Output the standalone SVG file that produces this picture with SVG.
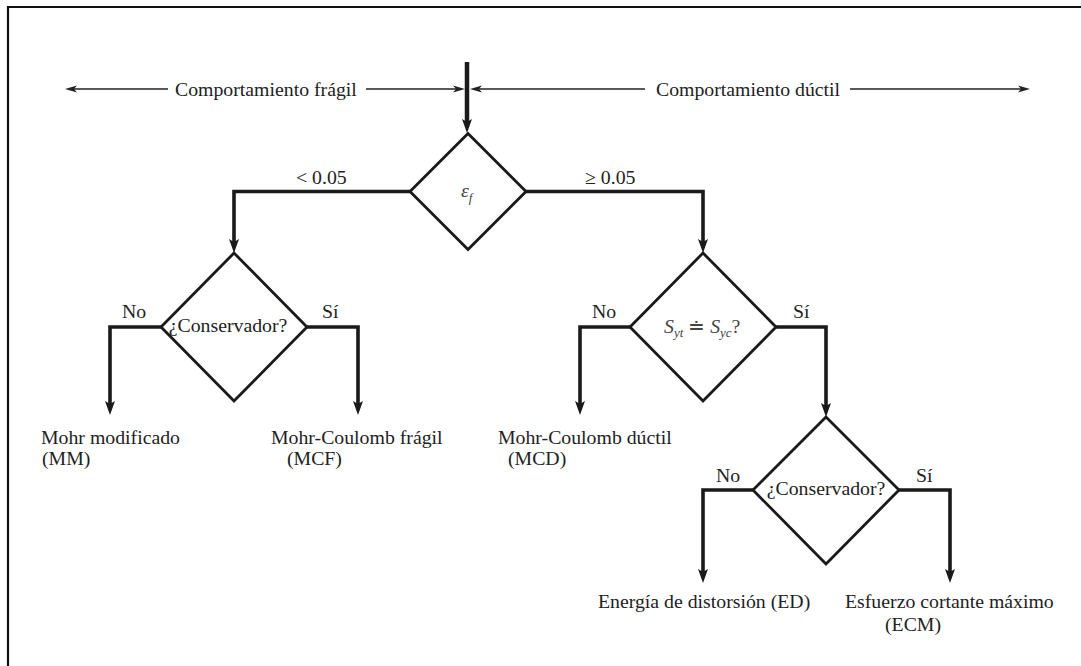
<svg xmlns="http://www.w3.org/2000/svg" width="1081" height="666" viewBox="0 0 1081 666">
  <style>
    text { font-family: "Liberation Serif", "Times New Roman", serif; font-size: 19.8px; fill: #222; }
    .math { fill: #444; font-style: italic; }
    .sub { font-size: 13px; }
    .frame { fill: none; stroke: #111; stroke-width: 2.2; }
    .decision { fill: #fff; stroke: #1a1a1a; stroke-width: 2.8; stroke-linejoin: miter; }
    .flow { fill: none; stroke: #1a1a1a; stroke-width: 3.6; stroke-linejoin: miter; marker-end: url(#headBold); }
    .thin { fill: none; stroke: #222; stroke-width: 1.3; }
  </style>
  <defs>
    <marker id="headBold" markerUnits="userSpaceOnUse" viewBox="0 0 14 10" markerWidth="14" markerHeight="10" refX="5" refY="5" orient="auto">
      <path d="M0,0 L14,5 L0,10 L3,5 z" fill="#1a1a1a"/>
    </marker>
    <marker id="headThin" markerUnits="userSpaceOnUse" viewBox="0 0 12 8" markerWidth="12" markerHeight="8" refX="5" refY="4" orient="auto">
      <path d="M0,0.5 L12,4 L0,7.5 L3,4 z" fill="#222"/>
    </marker>
  </defs>

  <!-- page frame (top and left edges) -->
  <path class="frame" d="M8,666 L8,7 L1081,7"/>

  <!-- behaviour ranges -->
  <g id="range-fragil">
    <path class="thin" d="M168,89 L72,89" marker-end="url(#headThin)"/>
    <path class="thin" d="M366,89 L458,89" marker-end="url(#headThin)"/>
    <text x="175" y="96">Comportamiento frágil</text>
  </g>
  <g id="range-ductil">
    <path class="thin" d="M645,89 L477,89" marker-end="url(#headThin)"/>
    <path class="thin" d="M850,89 L1023,89" marker-end="url(#headThin)"/>
    <text x="656" y="96">Comportamiento dúctil</text>
  </g>

  <!-- connectors -->
  <g id="connectors">
    <path class="flow" d="M467,62 L467,124" style="stroke-width:4.5"/>
    <path class="flow" d="M410,191.5 L234,191.5 L234,244"/>
    <path class="flow" d="M526,191.5 L703,191.5 L703,244"/>
    <path class="flow" d="M161,327 L110,327 L110,406"/>
    <path class="flow" d="M307,327 L358,327 L358,406"/>
    <path class="flow" d="M630,327 L580,327 L580,406"/>
    <path class="flow" d="M776,327 L826,327 L826,408"/>
    <path class="flow" d="M753,490 L703,490 L703,574"/>
    <path class="flow" d="M899,490 L950,490 L950,574"/>
    <text x="296" y="184">&lt; 0.05</text>
    <text x="585" y="184">≥ 0.05</text>
    <text x="122" y="318">No</text>
    <text x="322" y="318">Sí</text>
    <text x="592" y="318">No</text>
    <text x="793" y="318">Sí</text>
    <text x="716" y="482">No</text>
    <text x="916" y="482">Sí</text>
  </g>

  <!-- decisions -->
  <g id="d-strain">
    <polygon class="decision" points="468,133.5 526,191.5 468,249.5 410,191.5"/>
    <text class="math" x="461" y="197">ε<tspan class="sub" dy="5">f</tspan></text>
  </g>
  <g id="d-conservador-fragil">
    <polygon class="decision" points="234,253 307,327 234,401 161,327"/>
    <text x="228" y="332" text-anchor="middle">¿Conservador?</text>
  </g>
  <g id="d-resistencias">
    <polygon class="decision" points="703,253 776,327 703,401 630,327"/>
    <text class="math" x="664" y="333">S<tspan class="sub" dy="4">yt</tspan><tspan dy="-4" font-style="normal"> ≐ </tspan>S<tspan class="sub" dy="4">yc</tspan><tspan dy="-4" font-style="normal">?</tspan></text>
  </g>
  <g id="d-conservador-ductil">
    <polygon class="decision" points="826,417 899,490 826,564 753,490"/>
    <text x="826" y="495" text-anchor="middle">¿Conservador?</text>
  </g>

  <!-- outcomes -->
  <g id="r-mm">
    <text x="41" y="444">Mohr modificado</text>
    <text x="42" y="465">(MM)</text>
  </g>
  <g id="r-mcf">
    <text x="271" y="444">Mohr-Coulomb frágil</text>
    <text x="287" y="465">(MCF)</text>
  </g>
  <g id="r-mcd">
    <text x="498" y="444">Mohr-Coulomb dúctil</text>
    <text x="508" y="465">(MCD)</text>
  </g>
  <g id="r-ed">
    <text x="598" y="608">Energía de distorsión (ED)</text>
  </g>
  <g id="r-ecm">
    <text x="845" y="608">Esfuerzo cortante máximo</text>
    <text x="885" y="631">(ECM)</text>
  </g>
</svg>
